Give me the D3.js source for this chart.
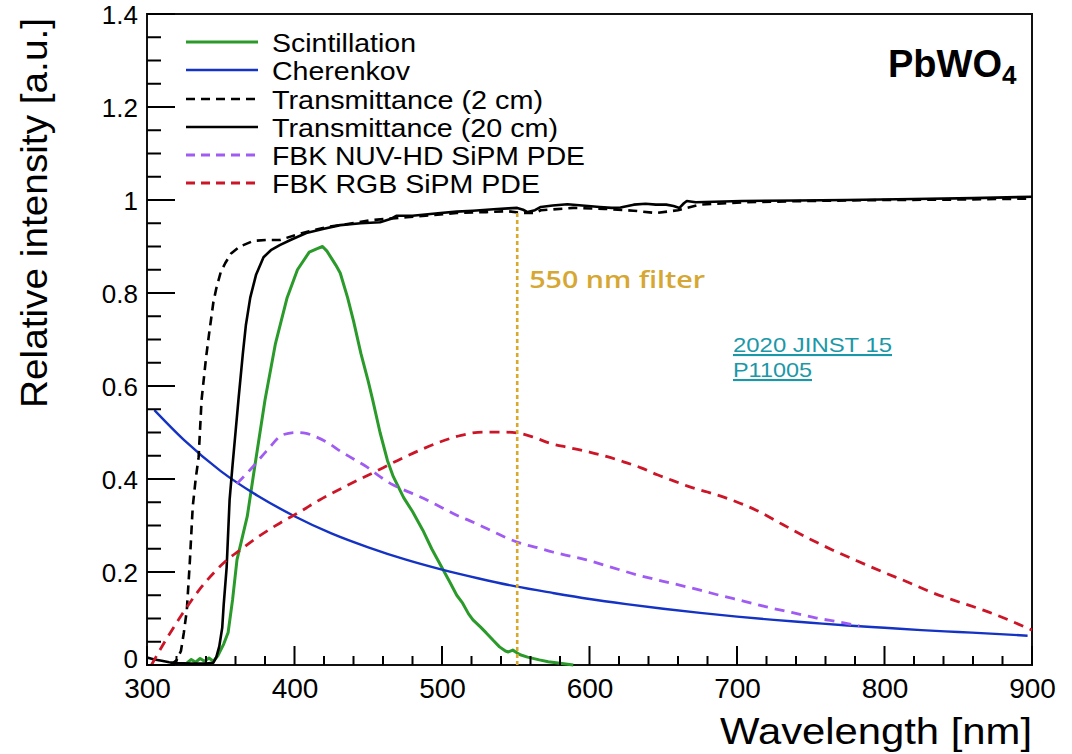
<!DOCTYPE html>
<html>
<head>
<meta charset="utf-8">
<script src="https://cdn.jsdelivr.net/npm/d3@7/dist/d3.min.js"></script>
<style>
  html, body { margin: 0; padding: 0; background: #fff; }
  svg { display: block; font-family: "Liberation Sans", Arial, Helvetica, sans-serif; }
</style>
</head>
<body>
<svg id="chart" width="1072" height="754"></svg>
<script>
// ---- Spectra of PbWO4 light emission, transmittance and SiPM response ----

const scintWl  = [327,330,333,336,339,342,345,348,352,355,358,361,365,368,373,380,387,395,402,410,415,419,422,425,428,431,436,440,445,450,453,458,463,467,474,480,487,493,499,505,510,514,518,521,526,530,535,539,543,545,548,551,553,558,566,572,580,589];
const scintVal = [0.004,0.012,0.006,0.014,0.008,0.015,0.008,0.02,0.045,0.07,0.14,0.226,0.28,0.32,0.426,0.57,0.69,0.79,0.85,0.888,0.895,0.9,0.89,0.875,0.86,0.843,0.79,0.74,0.67,0.61,0.57,0.5,0.44,0.405,0.36,0.33,0.29,0.25,0.215,0.18,0.15,0.133,0.11,0.097,0.082,0.069,0.052,0.039,0.03,0.028,0.032,0.026,0.022,0.017,0.011,0.007,0.004,0.0];

const cherWl  = [305,325,350,375,400,425,450,475,500,525,550,575,600,625,650,675,700,725,750,775,800,825,850,875,897];
const cherVal = [0.548,0.484,0.417,0.364,0.320,0.283,0.253,0.227,0.205,0.186,0.169,0.155,0.142,0.131,0.121,0.112,0.104,0.097,0.091,0.085,0.080,0.075,0.071,0.067,0.063];

const trans2Wl  = [316,320,323,325,327,329,331,333,335,337,340,342,345,347,350,353,357,363,372,381,390,401,410,422,435,453,476,495,510,530,544,555,563,567,589,610,630,645,660,675,703,750,800,850,900];
const trans2Val = [0.0,0.01,0.03,0.07,0.118,0.22,0.34,0.40,0.447,0.57,0.66,0.71,0.78,0.81,0.845,0.864,0.885,0.90,0.912,0.914,0.914,0.925,0.933,0.942,0.948,0.957,0.963,0.968,0.972,0.974,0.976,0.972,0.972,0.978,0.983,0.981,0.977,0.972,0.978,0.99,0.995,0.998,1.0,1.001,1.003];

const trans20Wl  = [300,305,310,315,320,330,340,345,347,349,351,352,354,356,358,360,362,365,367,370,374,379,384,390,398,408,420,431,445,458,465,469,480,499,510,521,535,545,551,555,558,563,567,575,585,595,607,615,621,630,638,645,652,657,661,664,666,672,703,740,774,820,860,900];
const trans20Val = [0.016,0.012,0.009,0.006,0.004,0.003,0.003,0.005,0.017,0.04,0.08,0.13,0.21,0.355,0.43,0.5,0.57,0.67,0.73,0.79,0.84,0.877,0.892,0.903,0.915,0.929,0.938,0.946,0.95,0.952,0.959,0.966,0.966,0.972,0.975,0.977,0.98,0.982,0.983,0.979,0.974,0.978,0.985,0.988,0.991,0.988,0.985,0.983,0.984,0.99,0.992,0.99,0.99,0.987,0.983,0.993,0.998,0.995,0.998,0.999,1.0,1.002,1.004,1.007];

const nuvWl  = [361,370,381,392,401,408,415,423,431,440,449,458,467,476,485,499,510,519,530,542,553,565,575,587,598,615,632,650,666,675,688,705,720,737,754,770,783];
const nuvVal = [0.39,0.42,0.46,0.495,0.5,0.498,0.49,0.477,0.46,0.443,0.426,0.405,0.387,0.374,0.362,0.34,0.322,0.31,0.294,0.276,0.262,0.252,0.243,0.234,0.226,0.21,0.194,0.18,0.168,0.161,0.15,0.137,0.125,0.113,0.101,0.092,0.084];

const rgbWl  = [303,313,324,335,347,355,363,375,390,404,417,435,453,470,485,499,513,528,540,551,562,573,587,600,612,623,635,646,657,668,680,691,702,713,731,750,765,782,799,816,833,850,867,884,900];
const rgbVal = [0.0,0.055,0.11,0.16,0.204,0.228,0.247,0.275,0.305,0.33,0.355,0.385,0.413,0.44,0.462,0.48,0.494,0.501,0.501,0.499,0.49,0.477,0.467,0.458,0.448,0.437,0.424,0.409,0.396,0.383,0.372,0.361,0.348,0.333,0.302,0.27,0.247,0.223,0.2,0.178,0.155,0.136,0.118,0.097,0.075];

const xTicks = [300,400,500,600,700,800,900];
const yTicks = [0,0.2,0.4,0.6,0.8,1,1.2,1.4];
const yTickLabels = ["0","0.2","0.4","0.6","0.8","1","1.2","1.4"];

const filterWl = 551;
const filterTop = 0.972;

const legendNames = ["Scintillation","Cherenkov","Transmittance (2 cm)","Transmittance (20 cm)","FBK NUV-HD SiPM PDE","FBK RGB SiPM PDE"];

// ---- layout ----
const svg = d3.select("#chart");
const frameL = 147, frameR = 1032, frameT = 14, frameB = 665;

const x = d3.scaleLinear().domain([300, 900]).range([frameL, frameR]);
const y = d3.scaleLinear().domain([0, 1.4]).range([frameB, frameT]);

// series styles
const series = [
  { name: legendNames[0], wl: scintWl,   val: scintVal,   color: "#2a9a2a", dash: null,   width: 3,   curve: d3.curveLinear },
  { name: legendNames[1], wl: cherWl,    val: cherVal,    color: "#1432c4", dash: null,   width: 2.4, curve: d3.curveMonotoneX },
  { name: legendNames[2], wl: trans2Wl,  val: trans2Val,  color: "#000000", dash: "9,6",  width: 2.6, curve: d3.curveLinear },
  { name: legendNames[3], wl: trans20Wl, val: trans20Val, color: "#000000", dash: null,   width: 2.6, curve: d3.curveLinear },
  { name: legendNames[4], wl: nuvWl,     val: nuvVal,     color: "#a05cf2", dash: "10,7", width: 2.8, curve: d3.curveMonotoneX },
  { name: legendNames[5], wl: rgbWl,     val: rgbVal,     color: "#cc1628", dash: "10,7", width: 2.8, curve: d3.curveMonotoneX }
];

// ---- axis labels (d3 axes) ----
const xAxis = d3.axisBottom(x).tickValues(xTicks).tickSize(0).tickPadding(13).tickFormat(d3.format("d"));
const yAxis = d3.axisLeft(y).tickValues(yTicks).tickSize(0).tickPadding(9).tickFormat((d, i) => yTickLabels[i]);

const gx = svg.append("g").attr("transform", `translate(0,${frameB})`).call(xAxis);
const gy = svg.append("g").attr("transform", `translate(${frameL},0)`).call(yAxis);
svg.selectAll(".domain").remove();
gx.selectAll(".tick text").attr("font-size", 28).attr("fill", "#000")
  .attr("font-family", "'Liberation Sans', Arial, sans-serif");
gy.selectAll(".tick text").attr("font-size", 26).attr("fill", "#000")
  .attr("font-family", "'Liberation Sans', Arial, sans-serif")
  .attr("dy", d => d === 0 ? "0.1em" : "0.36em");

// frame
svg.append("rect")
  .attr("x", frameL).attr("y", frameT)
  .attr("width", frameR - frameL).attr("height", frameB - frameT)
  .attr("fill", "none").attr("stroke", "#111").attr("stroke-width", 2);

// axis titles
svg.append("text")
  .attr("x", frameR).attr("y", 744)
  .attr("text-anchor", "end").attr("font-size", 36).attr("fill", "#000")
  .attr("textLength", 312).attr("lengthAdjust", "spacingAndGlyphs")
  .text("Wavelength [nm]");

svg.append("text")
  .attr("transform", "translate(47,18) rotate(-90)")
  .attr("text-anchor", "end").attr("font-size", 36).attr("fill", "#000")
  .attr("textLength", 390).attr("lengthAdjust", "spacingAndGlyphs")
  .text("Relative intensity [a.u.]");

// ---- curves ----
const plot = svg.append("g");
series.forEach(s => {
  const pts = s.wl.map((w, i) => [w, s.val[i]]);
  plot.append("path")
    .datum(pts)
    .attr("fill", "none")
    .attr("stroke", s.color)
    .attr("stroke-width", s.width)
    .attr("stroke-linejoin", "round")
    .attr("stroke-dasharray", s.dash)
    .attr("d", d3.line().x(d => x(d[0])).y(d => y(d[1])).curve(s.curve));
});

// 550 nm filter marker
plot.append("line")
  .attr("x1", x(filterWl)).attr("x2", x(filterWl))
  .attr("y1", y(filterTop)).attr("y2", y(0))
  .attr("stroke", "#d8a92c").attr("stroke-width", 2.6)
  .attr("stroke-dasharray", "4,3");

svg.append("text")
  .attr("x", x(filterWl) + 12).attr("y", 288)
  .attr("font-family", "'Open Sans', 'DejaVu Sans', sans-serif")
  .attr("font-weight", 600).attr("font-size", 23).attr("fill", "#d6a732")
  .attr("textLength", 176).attr("lengthAdjust", "spacingAndGlyphs")
  .text("550 nm filter");

// ---- ROOT-style inward tick marks, one path per axis ----
const xMinorVals = d3.range(300, 901, 20).filter(v => v % 100 !== 0);
const yMinorVals = d3.range(0, 141, 5).filter(v => v % 20 !== 0).map(v => v / 100);
const xTickPath = xTicks.map(v => `M${x(v)},${frameB}V${frameB - 19}`).join("")
  + xMinorVals.map(v => `M${x(v)},${frameB}V${frameB - 9}`).join("");
const yTickPath = yTicks.map(v => `M${frameL},${y(v)}H${frameL + 28}`).join("")
  + yMinorVals.map(v => `M${frameL},${y(v)}H${frameL + 14}`).join("");
svg.append("path").attr("d", xTickPath)
  .attr("fill", "none").attr("stroke", "#000").attr("stroke-width", 2);
svg.append("path").attr("d", yTickPath)
  .attr("fill", "none").attr("stroke", "#000").attr("stroke-width", 2);

// ---- legend ----
const legend = svg.append("g");
const rowY = [42, 70, 99, 127, 155, 183];
const legendWidths = [144, 138, 271, 286, 313, 268];
series.forEach((s, i) => {
  legend.append("line")
    .attr("x1", 186).attr("x2", 258)
    .attr("y1", rowY[i]).attr("y2", rowY[i])
    .attr("stroke", s.color).attr("stroke-width", s.width)
    .attr("stroke-dasharray", s.dash ? "9,6" : null);
  legend.append("text")
    .attr("x", 272).attr("y", rowY[i] + 9.5)
    .attr("font-size", 26.5).attr("fill", "#000")
    .attr("textLength", legendWidths[i]).attr("lengthAdjust", "spacingAndGlyphs")
    .text(s.name);
});

// material label
const mat = svg.append("text")
  .attr("x", 888).attr("y", 77)
  .attr("font-size", 38).attr("font-weight", "bold").attr("fill", "#000");
mat.append("tspan").text("PbWO");
mat.append("tspan").attr("font-size", 26).attr("dy", 7).text("4");

// reference
const ref = svg.append("g")
  .attr("font-size", 21).attr("fill", "#1b98a8")
  .attr("text-decoration", "underline");
ref.append("text").attr("x", 733).attr("y", 352)
  .attr("textLength", 159).attr("lengthAdjust", "spacingAndGlyphs").text("2020 JINST 15");
ref.append("text").attr("x", 733).attr("y", 377)
  .attr("textLength", 79).attr("lengthAdjust", "spacingAndGlyphs").text("P11005");
</script>
</body>
</html>
